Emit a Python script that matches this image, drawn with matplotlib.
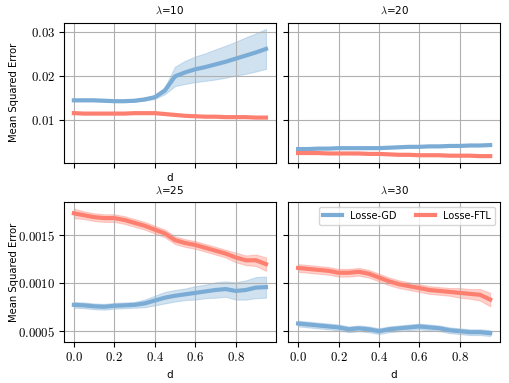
import numpy as np
import matplotlib.pyplot as plt
from matplotlib.ticker import StrMethodFormatter

plt.rcParams['mathtext.fontset'] = 'cm'

d = np.arange(20) * 0.05

# lambda = 10
gd_10 = [0.0145, 0.0145, 0.0145, 0.0144, 0.0143, 0.0143, 0.0144, 0.0147, 0.0152, 0.0167,
         0.0199, 0.0208, 0.0215, 0.0220, 0.0226, 0.0232, 0.0239, 0.0246, 0.0253, 0.0261]
gd_10_sd = [0.0002, 0.0002, 0.0002, 0.0002, 0.0002, 0.0002, 0.0002, 0.0003, 0.0004, 0.0008,
            0.0022, 0.0026, 0.0029, 0.0031, 0.0034, 0.0036, 0.0038, 0.0041, 0.0043, 0.0045]
ftl_10 = [0.0116, 0.0115, 0.0115, 0.0115, 0.0115, 0.0115, 0.0116, 0.0116, 0.0116, 0.0114,
          0.0112, 0.0110, 0.0109, 0.0108, 0.0108, 0.0107, 0.0107, 0.0107, 0.0106, 0.0106]
ftl_10_sd = [0.0001] * 20

# lambda = 20
gd_20 = [0.0035, 0.0035, 0.0036, 0.0036, 0.0037, 0.0037, 0.0037, 0.0037, 0.0037, 0.0038,
         0.0039, 0.0040, 0.0040, 0.0041, 0.0041, 0.0042, 0.0042, 0.0043, 0.0043, 0.0044]
gd_20_sd = [0.0001] * 20
ftl_20 = [0.0026, 0.0026, 0.0026, 0.0025, 0.0025, 0.0025, 0.0025, 0.0024, 0.0024, 0.0023,
          0.0022, 0.0022, 0.0021, 0.0021, 0.0021, 0.0020, 0.0020, 0.0020, 0.0019, 0.0019]
ftl_20_sd = [0.00008] * 20

# lambda = 25
gd_25 = [0.000775, 0.000770, 0.000760, 0.000755, 0.000765, 0.000770, 0.000775, 0.000790, 0.000820, 0.000850,
         0.000870, 0.000885, 0.000900, 0.000915, 0.000930, 0.000940, 0.000920, 0.000930, 0.000955, 0.000960]
gd_25_sd = [0.00003, 0.00003, 0.00003, 0.00003, 0.00003, 0.00003, 0.00003, 0.00004, 0.00005, 0.00006,
            0.00006, 0.00006, 0.00007, 0.00007, 0.00008, 0.00008, 0.00009, 0.00010, 0.00011, 0.00011]
ftl_25 = [0.00173, 0.00171, 0.00169, 0.00168, 0.00168, 0.00166, 0.00163, 0.00160, 0.00156, 0.00152,
          0.00145, 0.00142, 0.00140, 0.00137, 0.00134, 0.00131, 0.00127, 0.00124, 0.00124, 0.00120]
ftl_25_sd = [0.00005, 0.00004, 0.00004, 0.00004, 0.00004, 0.00004, 0.00004, 0.00004, 0.00004, 0.00004,
             0.00004, 0.00004, 0.00004, 0.00004, 0.00004, 0.00004, 0.00005, 0.00005, 0.00006, 0.00007]

# lambda = 30
gd_30 = [0.00058, 0.00057, 0.00056, 0.00055, 0.00054, 0.00052, 0.00053, 0.00052, 0.00050, 0.00052,
         0.00053, 0.00054, 0.00055, 0.00054, 0.00053, 0.00051, 0.00050, 0.00049, 0.00049, 0.00048]
gd_30_sd = [0.00003] * 20
ftl_30 = [0.00116, 0.00115, 0.00114, 0.00113, 0.00111, 0.00111, 0.00112, 0.00110, 0.00106, 0.00102,
          0.00099, 0.00097, 0.00095, 0.00093, 0.00092, 0.00091, 0.00090, 0.00089, 0.00088, 0.00083]
ftl_30_sd = [0.00004, 0.00004, 0.00004, 0.00004, 0.00004, 0.00004, 0.00004, 0.00004, 0.00004, 0.00004,
             0.00004, 0.00004, 0.00004, 0.00004, 0.00004, 0.00004, 0.00005, 0.00005, 0.00006, 0.00007]

lams = [10, 20, 25, 30]
gd = [gd_10, gd_20, gd_25, gd_30]
gd_sd = [gd_10_sd, gd_20_sd, gd_25_sd, gd_30_sd]
ftl = [ftl_10, ftl_20, ftl_25, ftl_30]
ftl_sd = [ftl_10_sd, ftl_20_sd, ftl_25_sd, ftl_30_sd]

c_gd = '#7bacd6'
c_ftl = '#fd7f6f'

fig, axes = plt.subplots(2, 2, figsize=(5.1, 3.83), dpi=100, sharex=True, sharey='row')
fig.subplots_adjust(left=0.126, right=0.98, top=0.941, bottom=0.106, wspace=0.061, hspace=0.28)

for i, ax in enumerate(axes.flat):
    m = np.array(gd[i]); s = np.array(gd_sd[i])
    ax.fill_between(d, m - s, m + s, color=c_gd, alpha=0.35, lw=0.8)
    ax.plot(d, m, color=c_gd, lw=3, label='Losse-GD')
    m = np.array(ftl[i]); s = np.array(ftl_sd[i])
    ax.fill_between(d, m - s, m + s, color=c_ftl, alpha=0.35, lw=0.8)
    ax.plot(d, m, color=c_ftl, lw=3, label='Losse-FTL')
    ax.set_title(r'$\lambda$=%d' % lams[i], fontsize=7.5)
    ax.grid(True, color='#b0b0b0', lw=0.8)
    ax.tick_params(labelsize=9.3, pad=3)
    ax.xaxis.set_major_formatter(StrMethodFormatter('${x:.1f}$'))
    ax.set_xticks([0, 0.2, 0.4, 0.6, 0.8])

axes[0, 0].yaxis.set_major_formatter(StrMethodFormatter('${x:.2f}$'))
axes[0, 0].set_yticks([0.01, 0.02, 0.03])
axes[1, 0].yaxis.set_major_formatter(StrMethodFormatter('${x:.4f}$'))
axes[1, 0].set_yticks([0.0005, 0.0010, 0.0015])

axes[0, 0].set_xlabel('d', fontsize=7.5)
axes[1, 0].set_xlabel('d', fontsize=7.5)
axes[1, 1].set_xlabel('d', fontsize=7.5)
for ax in axes[:, 0]:
    ax.set_ylabel('Mean Squared Error', fontsize=7.2)
    ax.yaxis.set_label_coords(-0.215, 0.5)

axes[1, 1].legend(loc='upper right', ncol=2, fontsize=7, framealpha=0.8)

plt.savefig('out.png', dpi=100)
